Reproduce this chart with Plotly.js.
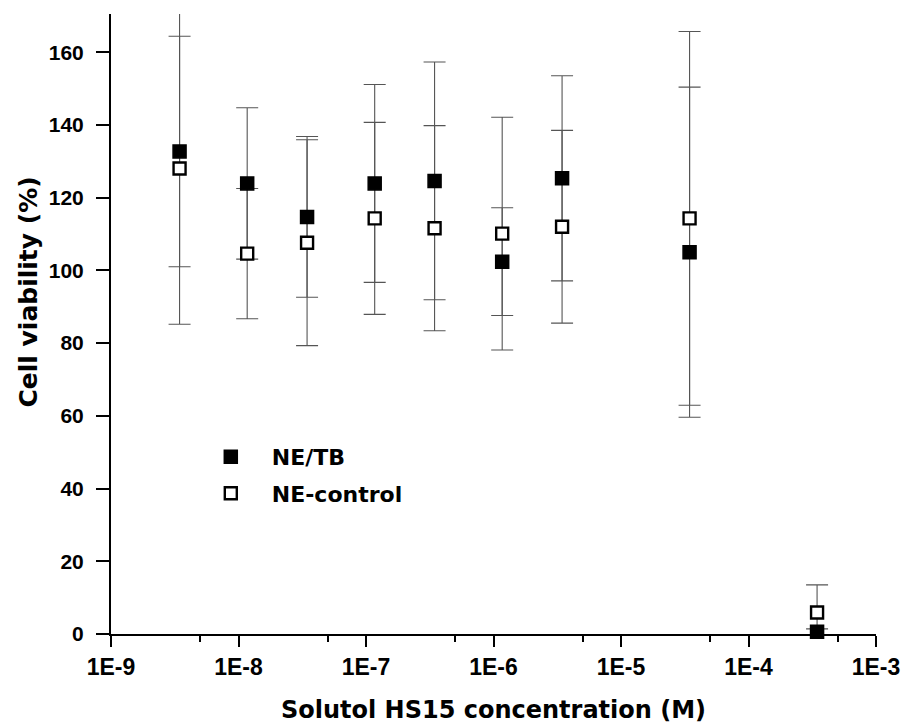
<!DOCTYPE html>
<html>
<head>
<meta charset="utf-8">
<script src="https://cdn.plot.ly/plotly-3.0.1.min.js"></script>
<style>html,body{margin:0;padding:0;background:#fff;}#chart{width:906px;height:724px;}</style>
</head>
<body>
<div id="chart"></div>
<script>
// Solutol HS15 concentration (M)
const concentration = [3.45e-9, 1.17e-8, 3.45e-8, 1.17e-7, 3.45e-7, 1.17e-6, 3.45e-6, 3.45e-5, 3.45e-4];
// NE/TB cell viability (%) and error (±)
const neTB = [132.7, 123.9, 114.7, 123.9, 124.6, 102.4, 125.3, 105.0, 0.6];
const neTBErr = [31.7, 20.8, 22.1, 27.2, 32.7, 14.8, 28.2, 45.4, 0.8];
// NE-control cell viability (%) and error (±)
const neControl = [128.0, 104.6, 107.6, 114.3, 111.6, 110.1, 112.0, 114.3, 5.9];
const neControlErr = [42.8, 17.9, 28.3, 26.4, 28.2, 32.0, 26.5, 51.4, 7.6];

const xTickVals = [1e-9, 1e-8, 1e-7, 1e-6, 1e-5, 1e-4, 1e-3];
const xTickText = ['1E-9', '1E-8', '1E-7', '1E-6', '1E-5', '1E-4', '1E-3'];
const xMinorVals = [5e-9, 5e-8, 5e-7, 5e-6, 5e-5, 5e-4];
const yTickVals = [0, 20, 40, 60, 80, 100, 120, 140, 160];

const FONT = 'DejaVu Sans, Arial, sans-serif';
const TICKFONT = 'Arial, Liberation Sans, sans-serif';
const errStyle = {color: '#555555', thickness: 1.1, width: 11};

const traces = [
  { // NE/TB error bars (drawn beneath everything)
    x: concentration, y: neTB, type: 'scatter', mode: 'markers',
    marker: {size: 1, opacity: 0, color: '#000'},
    error_y: Object.assign({type: 'data', array: neTBErr, visible: true}, errStyle),
    showlegend: false, hoverinfo: 'skip', cliponaxis: false, legendgroup: 'a', legendrank: 1
  },
  {
    name: 'NE-control', x: concentration, y: neControl, type: 'scatter', mode: 'markers',
    marker: {symbol: 'square', size: 12, color: '#ffffff', line: {color: '#000000', width: 2.4}},
    error_y: Object.assign({type: 'data', array: neControlErr, visible: true}, errStyle),
    legendgroup: 'b', legendrank: 2, cliponaxis: false
  },
  {
    name: 'NE/TB', x: concentration, y: neTB, type: 'scatter', mode: 'markers',
    marker: {symbol: 'square', size: 13, color: '#000000', line: {color: '#000000', width: 1.5}},
    legendgroup: 'a', legendrank: 1, cliponaxis: false
  }
];

const layout = {
  width: 906, height: 724,
  margin: {l: 111, r: 30, t: 14, b: 90},
  paper_bgcolor: '#ffffff', plot_bgcolor: '#ffffff',
  font: {family: FONT, color: '#000000', weight: 'bold'},
  showlegend: true,
  legend: {
    x: 0.103, y: 0.3195, xanchor: 'left', yanchor: 'top',
    bgcolor: 'rgba(0,0,0,0)', borderwidth: 0,
    font: {family: FONT, size: 22, color: '#000', weight: 'bold'},
    itemwidth: 72, traceorder: 'grouped', tracegroupgap: 5
  },
  xaxis: {
    type: 'log', range: [-9, -3],
    tickmode: 'array', tickvals: xTickVals, ticktext: xTickText,
    ticks: 'outside', ticklen: 11, tickwidth: 2, tickcolor: '#000',
    showline: true, linewidth: 2, linecolor: '#000', mirror: false,
    showgrid: false, zeroline: false,
    tickfont: {family: TICKFONT, size: 23, color: '#000', weight: 'bold'},
    minor: {tickmode: 'array', tickvals: xMinorVals, ticks: 'outside', ticklen: 6, tickwidth: 2, tickcolor: '#000', showgrid: false},
    title: {text: 'Solutol HS15 concentration (M)', font: {family: FONT, size: 24, color: '#000', weight: 'bold'}, standoff: 25}
  },
  yaxis: {
    range: [0, 170.5],
    tickmode: 'array', tickvals: yTickVals,
    ticks: 'outside', ticklen: 13, tickwidth: 2, tickcolor: '#000',
    ticklabelstandoff: 8,
    showline: true, linewidth: 2, linecolor: '#000',
    showgrid: false, zeroline: false,
    tickfont: {family: TICKFONT, size: 21, color: '#000', weight: 'bold'}
  },
  annotations: [{
    text: 'Cell viability (%)', textangle: -90,
    xref: 'paper', yref: 'paper', x: -0.109, y: 0.5516,
    xanchor: 'center', yanchor: 'middle', showarrow: false,
    font: {family: FONT, size: 25, color: '#000', weight: 'bold'}
  }]
};

Plotly.newPlot('chart', traces, layout, {displayModeBar: false, staticPlot: true});
</script>
</body>
</html>
